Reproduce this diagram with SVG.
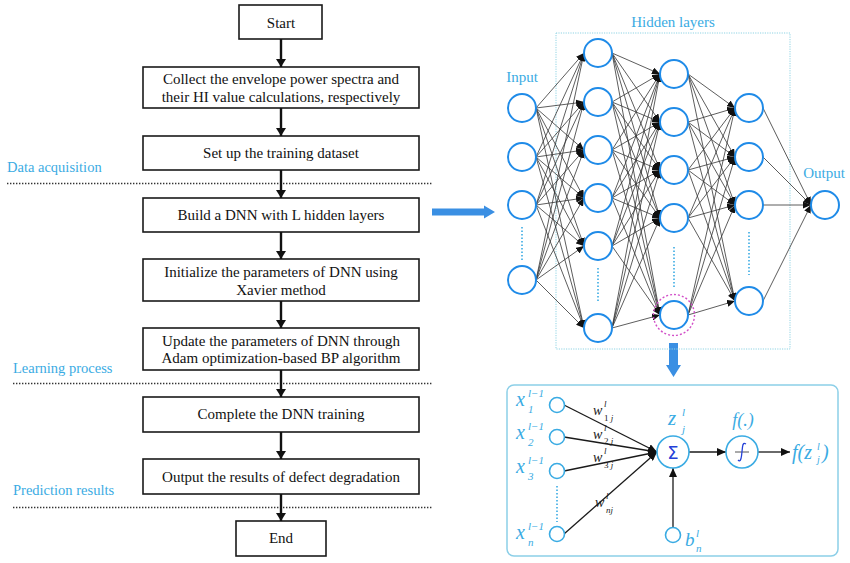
<svg xmlns="http://www.w3.org/2000/svg" width="850" height="563" viewBox="0 0 850 563">
<defs>
<style>
.box{fill:#fff;stroke:#1a1a1a;stroke-width:1.6}
.ft{font-family:"Liberation Serif",serif;font-size:15px;fill:#111;text-anchor:middle}
.sec{font-family:"Liberation Serif",serif;font-size:14.5px;fill:#3aabe3}
.sep{stroke:#333;stroke-width:1.4;stroke-dasharray:1.4 1.6;fill:none}
.farr{stroke:#111;stroke-width:2.4;fill:none;marker-end:url(#fh)}
.nn{fill:#fff;stroke:#1f8be8;stroke-width:2}
.e{stroke:#333;stroke-width:0.8;marker-end:url(#nh)}
.dots{stroke:#3aabe3;stroke-width:1.6;stroke-dasharray:1.5 2;fill:none}
.lbl{font-family:"Liberation Serif",serif;font-size:15px;fill:#3aabe3;text-anchor:middle}
.sn{fill:#fff;stroke:#3aabe3;stroke-width:1.6}
.it{font-family:"Liberation Serif",serif;font-style:italic;fill:#3aabe3}
.wt{font-family:"Liberation Serif",serif;font-style:italic;fill:#1a1a1a}
.we{stroke:#1a1a1a;stroke-width:1.3;marker-end:url(#wh)}
</style>
<marker id="fh" markerUnits="userSpaceOnUse" markerWidth="10" markerHeight="10" refX="8" refY="5" orient="auto"><path d="M0,0 L8,5 L0,10 z" fill="#111"/></marker>
<marker id="nh" markerUnits="userSpaceOnUse" markerWidth="8" markerHeight="7" refX="8" refY="3.5" orient="auto"><path d="M0,0 L8,3.5 L0,7 z" fill="#111"/></marker>
<marker id="wh" markerUnits="userSpaceOnUse" markerWidth="9" markerHeight="8" refX="9" refY="4" orient="auto"><path d="M0,0 L9,4 L0,8 z" fill="#111"/></marker>
</defs>
<rect width="850" height="563" fill="#fff"/>

<!-- Flowchart -->
<g id="start"><rect class="box" x="239" y="5" width="83" height="34"/><text class="ft" x="281" y="28">Start</text></g>
<g id="collect"><rect class="box" x="143" y="67" width="276" height="41"/><text class="ft" x="281" y="83.5">Collect the envelope power spectra and</text><text class="ft" x="281" y="101.5">their HI value calculations, respectively</text></g>
<g id="setup"><rect class="box" x="143" y="136" width="276" height="34"/><text class="ft" x="281" y="158">Set up the training dataset</text></g>
<g id="build"><rect class="box" x="143" y="198" width="276" height="34"/><text class="ft" x="281" y="220">Build a DNN with L hidden layers</text></g>
<g id="init"><rect class="box" x="143" y="259" width="276" height="42"/><text class="ft" x="281" y="277">Initialize the parameters of DNN using</text><text class="ft" x="281" y="294.5">Xavier method</text></g>
<g id="update"><rect class="box" x="143" y="328" width="276" height="42"/><text class="ft" x="281" y="345.5">Update the parameters of DNN through</text><text class="ft" x="281" y="363">Adam optimization-based BP algorithm</text></g>
<g id="complete"><rect class="box" x="143" y="397" width="276" height="35"/><text class="ft" x="281" y="419">Complete the DNN training</text></g>
<g id="output"><rect class="box" x="143" y="459" width="276" height="35"/><text class="ft" x="281" y="482">Output the results of defect degradation</text></g>
<g id="end"><rect class="box" x="236" y="521" width="90" height="35"/><text class="ft" x="281" y="543">End</text></g>

<g id="sections">
<text class="sec" x="7" y="172">Data acquisition</text>
<line class="sep" x1="7" y1="183.5" x2="433" y2="183.5"/>
<text class="sec" x="13" y="373">Learning process</text>
<line class="sep" x1="13" y1="383.5" x2="433" y2="383.5"/>
<text class="sec" x="13" y="495">Prediction results</text>
<line class="sep" x1="13" y1="507.5" x2="433" y2="507.5"/>
</g>

<g id="flow-connectors">
<line class="farr" x1="281" y1="39" x2="281" y2="67"/>
<line class="farr" x1="281" y1="108" x2="281" y2="136"/>
<line class="farr" x1="281" y1="170" x2="281" y2="198"/>
<line class="farr" x1="281" y1="232" x2="281" y2="259"/>
<line class="farr" x1="281" y1="301" x2="281" y2="328"/>
<line class="farr" x1="281" y1="370" x2="281" y2="397"/>
<line class="farr" x1="281" y1="432" x2="281" y2="459"/>
<line class="farr" x1="281" y1="494" x2="281" y2="521"/>
</g>

<!-- Big blue arrows -->
<g id="blue-arrows" fill="#3a8fe3">
<path d="M432,208.5 L484,208.5 L484,205.5 L495,212 L484,218.5 L484,215.5 L432,215.5 z"/>
<path d="M669,343 L678,343 L678,365 L681,365 L673.5,377 L666,365 L669,365 z"/>
</g>

<!-- Neural network -->
<g id="hidden-box"><rect x="556" y="33" width="234" height="316" fill="none" stroke="#8fd3e3" stroke-width="1" stroke-dasharray="1.2 1.2"/>
<text class="lbl" x="673" y="27">Hidden layers</text></g>
<text class="lbl" x="522" y="82">Input</text>
<text class="lbl" x="824" y="178">Output</text>

<g id="nn-connectors">
<line class="e" x1="536" y1="108" x2="584" y2="53"/><line class="e" x1="536" y1="108" x2="584" y2="102"/><line class="e" x1="536" y1="108" x2="584" y2="150"/><line class="e" x1="536" y1="108" x2="584" y2="198"/><line class="e" x1="536" y1="108" x2="584" y2="246"/><line class="e" x1="536" y1="108" x2="584" y2="328"/>
<line class="e" x1="536" y1="157" x2="584" y2="53"/><line class="e" x1="536" y1="157" x2="584" y2="102"/><line class="e" x1="536" y1="157" x2="584" y2="150"/><line class="e" x1="536" y1="157" x2="584" y2="198"/><line class="e" x1="536" y1="157" x2="584" y2="246"/><line class="e" x1="536" y1="157" x2="584" y2="328"/>
<line class="e" x1="536" y1="205" x2="584" y2="53"/><line class="e" x1="536" y1="205" x2="584" y2="102"/><line class="e" x1="536" y1="205" x2="584" y2="150"/><line class="e" x1="536" y1="205" x2="584" y2="198"/><line class="e" x1="536" y1="205" x2="584" y2="246"/><line class="e" x1="536" y1="205" x2="584" y2="328"/>
<line class="e" x1="536" y1="280" x2="584" y2="53"/><line class="e" x1="536" y1="280" x2="584" y2="102"/><line class="e" x1="536" y1="280" x2="584" y2="150"/><line class="e" x1="536" y1="280" x2="584" y2="198"/><line class="e" x1="536" y1="280" x2="584" y2="246"/><line class="e" x1="536" y1="280" x2="584" y2="328"/>

<line class="e" x1="612" y1="53" x2="660" y2="74"/><line class="e" x1="612" y1="53" x2="660" y2="122"/><line class="e" x1="612" y1="53" x2="660" y2="170"/><line class="e" x1="612" y1="53" x2="660" y2="218"/><line class="e" x1="612" y1="53" x2="660" y2="315"/>
<line class="e" x1="612" y1="102" x2="660" y2="74"/><line class="e" x1="612" y1="102" x2="660" y2="122"/><line class="e" x1="612" y1="102" x2="660" y2="170"/><line class="e" x1="612" y1="102" x2="660" y2="218"/><line class="e" x1="612" y1="102" x2="660" y2="315"/>
<line class="e" x1="612" y1="150" x2="660" y2="74"/><line class="e" x1="612" y1="150" x2="660" y2="122"/><line class="e" x1="612" y1="150" x2="660" y2="170"/><line class="e" x1="612" y1="150" x2="660" y2="218"/><line class="e" x1="612" y1="150" x2="660" y2="315"/>
<line class="e" x1="612" y1="198" x2="660" y2="74"/><line class="e" x1="612" y1="198" x2="660" y2="122"/><line class="e" x1="612" y1="198" x2="660" y2="170"/><line class="e" x1="612" y1="198" x2="660" y2="218"/><line class="e" x1="612" y1="198" x2="660" y2="315"/>
<line class="e" x1="612" y1="246" x2="660" y2="74"/><line class="e" x1="612" y1="246" x2="660" y2="122"/><line class="e" x1="612" y1="246" x2="660" y2="170"/><line class="e" x1="612" y1="246" x2="660" y2="218"/><line class="e" x1="612" y1="246" x2="660" y2="315"/>
<line class="e" x1="612" y1="328" x2="660" y2="74"/><line class="e" x1="612" y1="328" x2="660" y2="122"/><line class="e" x1="612" y1="328" x2="660" y2="170"/><line class="e" x1="612" y1="328" x2="660" y2="218"/><line class="e" x1="612" y1="328" x2="660" y2="315"/>

<line class="e" x1="688" y1="74" x2="735" y2="108"/><line class="e" x1="688" y1="74" x2="735" y2="157"/><line class="e" x1="688" y1="74" x2="735" y2="205"/><line class="e" x1="688" y1="74" x2="735" y2="301"/>
<line class="e" x1="688" y1="122" x2="735" y2="108"/><line class="e" x1="688" y1="122" x2="735" y2="157"/><line class="e" x1="688" y1="122" x2="735" y2="205"/><line class="e" x1="688" y1="122" x2="735" y2="301"/>
<line class="e" x1="688" y1="170" x2="735" y2="108"/><line class="e" x1="688" y1="170" x2="735" y2="157"/><line class="e" x1="688" y1="170" x2="735" y2="205"/><line class="e" x1="688" y1="170" x2="735" y2="301"/>
<line class="e" x1="688" y1="218" x2="735" y2="108"/><line class="e" x1="688" y1="218" x2="735" y2="157"/><line class="e" x1="688" y1="218" x2="735" y2="205"/><line class="e" x1="688" y1="218" x2="735" y2="301"/>
<line class="e" x1="688" y1="315" x2="735" y2="108"/><line class="e" x1="688" y1="315" x2="735" y2="157"/><line class="e" x1="688" y1="315" x2="735" y2="205"/><line class="e" x1="688" y1="315" x2="735" y2="301"/>

<line class="e" x1="763" y1="108" x2="811" y2="205"/><line class="e" x1="763" y1="157" x2="811" y2="205"/><line class="e" x1="763" y1="205" x2="811" y2="205"/><line class="e" x1="763" y1="301" x2="811" y2="205"/>
</g>

<g id="layer-input">
<circle class="nn" cx="522" cy="108" r="14"/><circle class="nn" cx="522" cy="157" r="14"/><circle class="nn" cx="522" cy="205" r="14"/><circle class="nn" cx="522" cy="280" r="14"/>
<line class="dots" x1="522" y1="227" x2="522" y2="260"/>
</g>
<g id="layer-h1">
<circle class="nn" cx="598" cy="53" r="14"/><circle class="nn" cx="598" cy="102" r="14"/><circle class="nn" cx="598" cy="150" r="14"/><circle class="nn" cx="598" cy="198" r="14"/><circle class="nn" cx="598" cy="246" r="14"/><circle class="nn" cx="598" cy="328" r="14"/>
<line class="dots" x1="598" y1="268" x2="598" y2="303"/>
</g>
<g id="layer-h2">
<circle class="nn" cx="674" cy="74" r="14"/><circle class="nn" cx="674" cy="122" r="14"/><circle class="nn" cx="674" cy="170" r="14"/><circle class="nn" cx="674" cy="218" r="14"/><circle class="nn" cx="674" cy="315" r="14"/>
<line class="dots" x1="674" y1="247" x2="674" y2="288"/>
<circle cx="674" cy="315" r="20.5" fill="none" stroke="#d24fc8" stroke-width="1.4" stroke-dasharray="2 2"/>
</g>
<g id="layer-h3">
<circle class="nn" cx="749" cy="108" r="14"/><circle class="nn" cx="749" cy="157" r="14"/><circle class="nn" cx="749" cy="205" r="14"/><circle class="nn" cx="749" cy="301" r="14"/>
<line class="dots" x1="749" y1="232" x2="749" y2="275"/>
</g>
<g id="layer-out"><circle class="nn" cx="825" cy="205" r="14"/></g>

<!-- Neuron detail -->
<g id="neuron-box"><rect x="507" y="385" width="331" height="171" rx="7" fill="none" stroke="#8ccfe8" stroke-width="1.5"/></g>

<g id="neuron-connectors">
<line class="we" x1="564" y1="405" x2="657" y2="452"/>
<line class="we" x1="564" y1="437" x2="657" y2="452"/>
<line class="we" x1="564" y1="471" x2="657" y2="452"/>
<line class="we" x1="564" y1="534" x2="657" y2="452"/>
<line class="we" x1="673" y1="527" x2="673" y2="468"/>
<line class="we" x1="689" y1="452" x2="726" y2="452"/>
<line class="we" x1="758" y1="452" x2="790" y2="452"/>
</g>

<g id="inputs">
<circle class="sn" cx="557" cy="405" r="7.5"/>
<text class="it" x="516" y="406" font-size="20">x</text><text class="it" x="528" y="413" font-size="11" font-style="normal">1</text><text class="it" x="528" y="397" font-size="11">l−1</text>
<circle class="sn" cx="557" cy="437" r="7.5"/>
<text class="it" x="516" y="439" font-size="20">x</text><text class="it" x="528" y="446" font-size="11" font-style="normal">2</text><text class="it" x="528" y="430" font-size="11">l−1</text>
<circle class="sn" cx="557" cy="471" r="7.5"/>
<text class="it" x="516" y="473" font-size="20">x</text><text class="it" x="528" y="480" font-size="11" font-style="normal">3</text><text class="it" x="528" y="464" font-size="11">l−1</text>
<line class="dots" x1="557" y1="486" x2="557" y2="522" stroke-width="1.2"/>
<circle class="sn" cx="557" cy="534" r="7.5"/>
<text class="it" x="516" y="539" font-size="20">x</text><text class="it" x="528" y="546" font-size="11">n</text><text class="it" x="528" y="530" font-size="11">l−1</text>
</g>

<g id="weights">
<text class="wt" x="593" y="415" font-size="14">w</text><text class="wt" x="604" y="407" font-size="9">l</text><text class="wt" x="604" y="421" font-size="9"><tspan font-style="normal">1</tspan> j</text>
<text class="wt" x="593" y="439" font-size="14">w</text><text class="wt" x="604" y="431" font-size="9">l</text><text class="wt" x="604" y="444" font-size="9"><tspan font-style="normal">2</tspan> j</text>
<text class="wt" x="593" y="462" font-size="14">w</text><text class="wt" x="604" y="454" font-size="9">l</text><text class="wt" x="604" y="468" font-size="9"><tspan font-style="normal">3</tspan> j</text>
<text class="wt" x="595" y="507" font-size="14">w</text><text class="wt" x="606" y="499" font-size="9">l</text><text class="wt" x="606" y="513" font-size="9">nj</text>
</g>

<g id="sum-node">
<circle class="sn" cx="673" cy="452" r="16"/>
<text x="673" y="459" font-family="DejaVu Sans,sans-serif" font-size="18" fill="#2440d8" text-anchor="middle">Σ</text>
<text class="it" x="668" y="425" font-size="21">z</text><text class="it" x="682" y="416" font-size="11">l</text><text class="it" x="682" y="433" font-size="11">j</text>
</g>
<g id="act-node">
<circle class="sn" cx="742" cy="452" r="16"/>
<line x1="735" y1="452" x2="749" y2="452" stroke="#555" stroke-width="1"/>
<path d="M738,460 C740,462 741,460 741.5,456 L742.5,447 C743,443 744,443 746,444" fill="none" stroke="#2440d8" stroke-width="1.3"/>
<text class="it" x="743" y="426" font-size="18" text-anchor="middle">f(.)</text>
</g>
<g id="out-label"><text class="it" x="792" y="459" font-size="20">f(z</text><text class="it" x="817" y="450" font-size="10">l</text><text class="it" x="817" y="463" font-size="10">j</text><text class="it" x="822" y="459" font-size="20">)</text></g>
<g id="bias-node">
<circle class="sn" cx="673" cy="535" r="7.5"/>
<text class="it" x="685" y="546" font-size="19">b</text><text class="it" x="696" y="537" font-size="11">l</text><text class="it" x="696" y="552" font-size="11">n</text>
</g>
</svg>
